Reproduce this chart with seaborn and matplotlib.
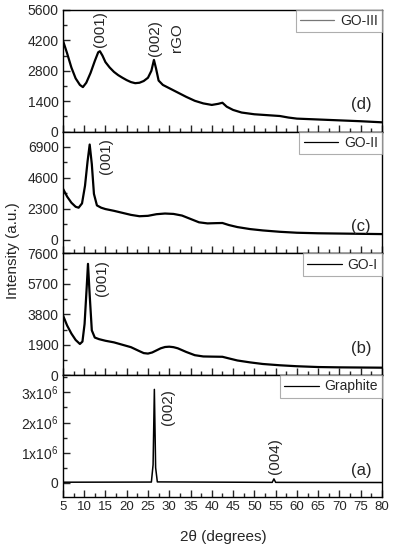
import numpy as np
import pandas as pd
import matplotlib
matplotlib.use('Agg')
import matplotlib.pyplot as plt
import seaborn as sns
from matplotlib.ticker import MultipleLocator, AutoMinorLocator

# дані
two_theta_go3 = [5, 6, 7, 8, 9, 9.7, 10.5, 11.5, 12.5, 13.3, 13.7, 14.3, 15, 16, 17, 18, 19, 20, 21, 22,
                 23, 24, 25, 25.8, 26.4, 26.9, 27.5, 28.5, 30, 32, 34, 36, 38, 40, 41.5, 42.5, 43.5, 45,
                 47, 50, 53, 56, 58, 60, 65, 70, 75, 80]
int_go3 = [4200, 3600, 2950, 2450, 2150, 2050, 2250, 2700, 3250, 3650, 3700, 3500, 3200, 2950, 2750, 2600,
           2480, 2370, 2280, 2230, 2250, 2330, 2480, 2800, 3300, 2900, 2350, 2150, 2000, 1800, 1600, 1420,
           1300, 1230, 1280, 1330, 1150, 1000, 880, 800, 760, 720, 650, 600, 560, 520, 480, 430]

two_theta_go2 = [5, 6, 7, 8, 8.7, 9.5, 10.2, 10.8, 11.3, 11.8, 12.3, 13, 14, 15, 17, 19, 21, 23, 25, 27,
                 29, 31, 33, 35, 37, 39, 41, 42.5, 44, 46, 49, 52, 56, 60, 65, 70, 75, 80]
int_go2 = [3800, 3200, 2750, 2450, 2380, 2700, 4000, 5800, 7050, 5600, 3400, 2550, 2380, 2280, 2150, 2000,
           1850, 1750, 1780, 1900, 1950, 1920, 1800, 1550, 1300, 1220, 1240, 1250, 1100, 950, 800, 700,
           600, 530, 490, 470, 450, 430]

two_theta_go1 = [5, 6, 7, 8, 9, 9.6, 10.1, 10.6, 10.9, 11.3, 11.8, 12.5, 13.5, 15, 17, 19, 21, 23, 24, 25,
                 26, 27, 28, 29, 30, 31, 32, 34, 36, 38, 40, 42.5, 44, 46, 49, 52, 56, 60, 65, 70, 75, 80]
int_go1 = [3750, 3100, 2600, 2200, 1950, 2100, 3200, 5500, 6950, 5000, 2800, 2350, 2250, 2150, 2050, 1900,
           1750, 1500, 1380, 1350, 1420, 1550, 1680, 1760, 1780, 1750, 1680, 1450, 1250, 1170, 1160, 1150,
           1050, 920, 800, 700, 620, 560, 510, 490, 480, 470]

two_theta_gr = [5, 25.8, 26.2, 26.5, 26.8, 27.2, 54.2, 54.6, 55.0, 80]
int_gr = [20000, 25000, 600000, 3100000, 500000, 30000, 15000, 130000, 15000, 10000]

sns.set_style('ticks')
plt.rcParams['font.family'] = ['Liberation Sans', 'DejaVu Sans']
plt.rcParams['mathtext.fontset'] = 'custom'
plt.rcParams['mathtext.rm'] = 'Liberation Sans'
plt.rcParams['font.size'] = 10

fig, axes = plt.subplots(4, 1, figsize=(3.93, 5.5), dpi=100, sharex=True,
                         gridspec_kw=dict(hspace=0))
fig.subplots_adjust(left=0.160, right=0.972, top=0.982, bottom=0.0964)

panels = [
    (two_theta_go3, int_go3, 'GO-III', (0, 5600), [0, 1400, 2800, 4200, 5600], None, '(d)', 1.6),
    (two_theta_go2, int_go2, 'GO-II', (-1000, 8000), [0, 2300, 4600, 6900], None, '(c)', 1.6),
    (two_theta_go1, int_go1, 'GO-I', (0, 7600), [0, 1900, 3800, 5700, 7600], None, '(b)', 1.6),
    (two_theta_gr, int_gr, 'Graphite', (-0.47e6, 3.57e6), [0, 1e6, 2e6, 3e6],
     ['0', r'1x10$^{6}$', r'2x10$^{6}$', r'3x10$^{6}$'], '(a)', 1.1),
]

for ax, (x, y, name, ylim, yt, ylab, tag, lw) in zip(axes, panels):
    df = pd.DataFrame({'x': x, 'y': y})
    sns.lineplot(data=df, x='x', y='y', ax=ax, color='black', lw=lw, label=name)
    ax.set_xlim(5, 80)
    ax.set_ylim(*ylim)
    ax.set_yticks(yt)
    if ylab is not None:
        ax.set_yticklabels(ylab)
    ax.yaxis.set_minor_locator(AutoMinorLocator(2))
    ax.xaxis.set_major_locator(MultipleLocator(5))
    ax.xaxis.set_minor_locator(MultipleLocator(2.5))
    ax.tick_params(axis='both', which='major', direction='in', length=5, width=1,
                   labelsize=10, pad=3)
    ax.tick_params(axis='both', which='minor', direction='in', length=3, width=1)
    ax.tick_params(axis='x', labelsize=9.5)
    ax.set_xlabel('')
    ax.set_ylabel('')
    for s in ax.spines.values():
        s.set_visible(True)
        s.set_linewidth(1)
        s.set_color('black')
    leg = ax.legend(loc='upper right', frameon=True, fancybox=False, borderaxespad=0,
                    handlelength=2.5, handletextpad=0.4, borderpad=0.3, fontsize=10)
    leg.get_frame().set_edgecolor('#9a9a9a')
    leg.get_frame().set_linewidth(0.8)
    for h in leg.get_lines():
        h.set_linewidth(0.9)
        if name == 'GO-III':
            h.set_color('#777777')
    ax.text(0.935, 0.22, tag, transform=ax.transAxes, ha='center', va='center', fontsize=12)

# підписи піків
fs = 11
tr = axes[0].get_xaxis_transform()
axes[0].text(13.7, 0.84, '(001)', transform=tr, rotation=90, ha='center', va='center', fontsize=fs)
axes[0].text(26.6, 0.77, '(002)', transform=tr, rotation=90, ha='center', va='center', fontsize=fs)
axes[0].text(31.8, 0.77, 'rGO', transform=tr, rotation=90, ha='center', va='center', fontsize=fs)
axes[1].text(15.2, 0.8, '(001)', transform=axes[1].get_xaxis_transform(), rotation=90,
             ha='center', va='center', fontsize=fs)
axes[2].text(14.2, 0.8, '(001)', transform=axes[2].get_xaxis_transform(), rotation=90,
             ha='center', va='center', fontsize=fs)
axes[3].text(29.7, 0.74, '(002)', transform=axes[3].get_xaxis_transform(), rotation=90,
             ha='center', va='center', fontsize=fs)
axes[3].text(54.9, 0.34, '(004)', transform=axes[3].get_xaxis_transform(), rotation=90,
             ha='center', va='center', fontsize=fs)

fig.text(0.033, 0.545, 'Intensity (a.u.)', rotation=90, ha='center', va='center', fontsize=11)
fig.text(0.567, 0.024, '2θ (degrees)', ha='center', va='center', fontsize=11)

fig.savefig('out.png', dpi=100)
